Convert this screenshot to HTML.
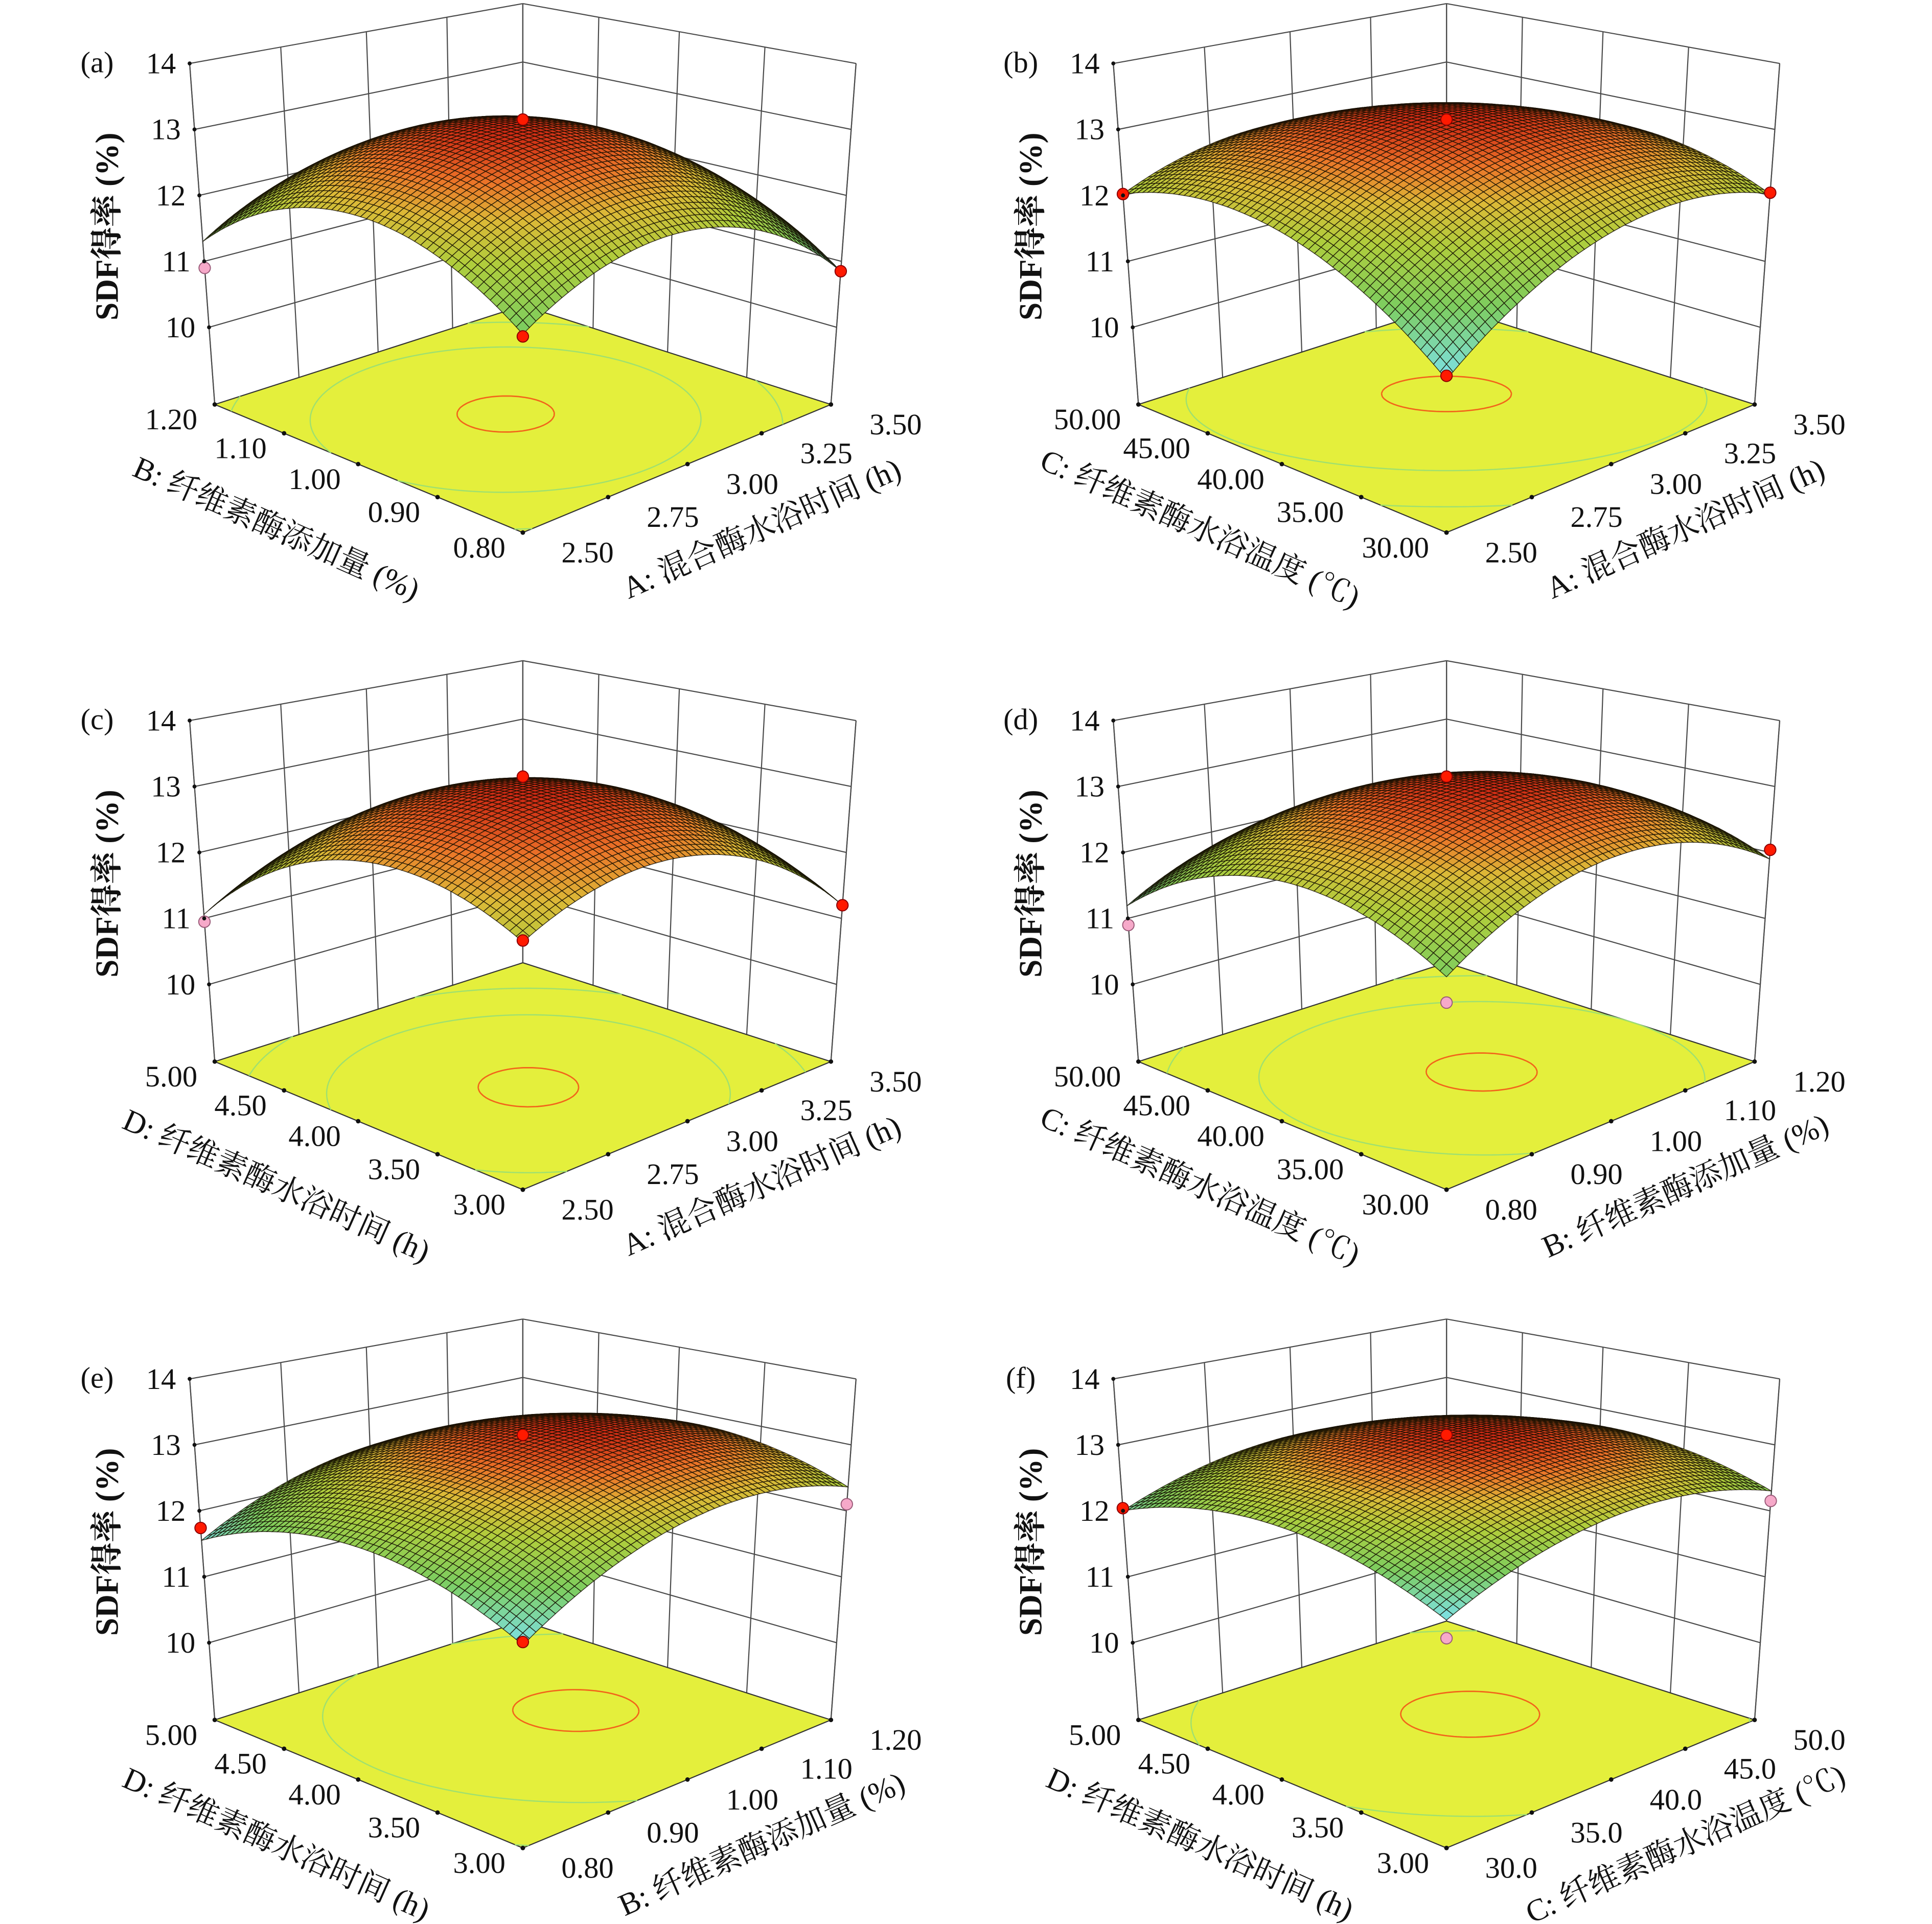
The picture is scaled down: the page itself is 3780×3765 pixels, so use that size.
<!DOCTYPE html>
<html><head><meta charset="utf-8"><style>
html,body{margin:0;padding:0;background:#fff;}
svg{display:block;}
text{font-family:"Liberation Serif","Noto Serif CJK SC",serif;fill:#111;}
</style></head><body>
<svg id="fig" xmlns="http://www.w3.org/2000/svg" width="3780" height="3765" viewBox="0 0 1552 1546" preserveAspectRatio="none"></svg>
<script>
// ---- data ----
const panelLetters = ["(a)","(b)","(c)","(d)","(e)","(f)"];
const centerVals = [13.12, 13.12, 13.12, 13.12, 13.12, 13.12];
const frontVals  = [11.45, 10.85, 12.10, 11.64, 11.51, 11.84];
const rightVals  = [10.85, 12.02, 11.20, 11.90, 12.36, 12.30];
const leftVals   = [11.30, 12.02, 11.06, 11.19, 11.55, 12.00];
const backVals   = [10.80, 11.60, 10.50, 11.00, 12.00, 12.10];
// design points: [panel, u(right axis -1..1), v(left axis -1..1), value, above(1)/below(0)]
const designPts = [
 [0,0,0,13.15,1],[0,-1,-1,11.42,1],[0,1,-1,10.85,1],[0,-1,1,10.90,0],
 [1,0,0,13.15,1],[1,-1,-1,10.90,1],[1,1,-1,12.04,1],[1,-1,1,12.02,1],
 [2,0,0,13.15,1],[2,-1,-1,12.12,1],[2,1,-1,11.20,1],[2,-1,1,10.95,0],
 [3,0,0,13.15,1],[3,-1,-1,11.30,0],[3,1,-1,12.04,1],[3,-1,1,10.90,0],
 [4,0,0,13.15,1],[4,-1,-1,11.55,1],[4,1,-1,12.10,0],[4,-1,1,11.74,1],
 [5,0,0,13.15,1],[5,-1,-1,11.60,0],[5,1,-1,12.15,0],[5,-1,1,12.04,1]
];
const zTicks = [10,11,12,13,14];
const ticksA = ["2.50","2.75","3.00","3.25","3.50"];
const ticksB = ["0.80","0.90","1.00","1.10","1.20"];
const ticksC = ["30.00","35.00","40.00","45.00","50.00"];
const ticksC1 = ["30.0","35.0","40.0","45.0","50.0"];
const ticksD = ["3.00","3.50","4.00","4.50","5.00"];
const leftTickSets  = [ticksB, ticksC, ticksD, ticksC, ticksD, ticksD];
const rightTickSets = [ticksA, ticksA, ticksA, ticksB, ticksB, ticksC1];
const titleA = "A: 混合酶水浴时间 (h)";
const titleB = "B: 纤维素酶添加量 (%)";
const titleC = "C: 纤维素酶水浴温度 (℃)";
const titleD = "D: 纤维素酶水浴时间 (h)";
const leftTitles  = [titleB, titleC, titleD, titleC, titleD, titleD];
const rightTitles = [titleA, titleA, titleA, titleB, titleB, titleC];
const zTitle = "SDF得率 (%)";
const colOffsets = [0, 742];
const rowOffsets = [0, 528, 1057];

// ---- helpers ----
const svg = document.getElementById('fig');
const NS = "http://www.w3.org/2000/svg";
const ZF = 8.83, ZS = 53, HZ = -370, FD = 695, HW = 247.5, KP = 0.129, TILT = 3.9;
function mk(tag, parent){ const e=document.createElementNS(NS,tag); parent.appendChild(e); return e; }
function proj(p,u,v,z){
  const D=(u+v)/2, X=(u-v)/2, q=1/(1+KP*D);
  return [p.ox+420+(HW*X+(z-ZF)*TILT*X)*q, p.oy+HZ+q*(FD-(z-ZF)*ZS)];
}
const stops=[[0,[125,225,235]],[0.3,[125,205,95]],[0.55,[175,205,60]],[0.72,[220,185,55]],[0.86,[235,115,40]],[1,[205,40,20]]];
function cmap(t){
  t=Math.max(0,Math.min(1,t));
  for(let i=1;i<stops.length;i++){ if(t<=stops[i][0]){ const a=stops[i-1],b=stops[i]; const f=(t-a[0])/(b[0]-a[0]);
    const c=a[1].map((x,k)=>Math.round(x+(b[1][k]-x)*f)); return `rgb(${c[0]},${c[1]},${c[2]})`; } }
  return 'rgb(205,40,20)';
}
function line(g,a,b,stroke,w,name){
  const l=mk('line',g);
  l.setAttribute('x1',a[0].toFixed(2)); l.setAttribute('y1',a[1].toFixed(2));
  l.setAttribute('x2',b[0].toFixed(2)); l.setAttribute('y2',b[1].toFixed(2));
  l.setAttribute('stroke',stroke); l.setAttribute('stroke-width',w);
  
  
  return l;
}
function txt(g,x,y,s,size,anchor,name,extra){
  const t=mk('text',g);
  t.setAttribute('x',x.toFixed(2)); t.setAttribute('y',y.toFixed(2));
  t.setAttribute('font-size',size); t.setAttribute('text-anchor',anchor);
  t.setAttribute('dominant-baseline','central');
  if(extra) for(const k in extra) t.setAttribute(k,extra[k]);
  t.textContent=s;
  
  
  return t;
}

for(let pi=0;pi<6;pi++){
  const p={ox:colOffsets[pi%2], oy:rowOffsets[Math.floor(pi/2)]};
  const F=frontVals[pi], R=rightVals[pi], L=leftVals[pi], B=backVals[pi], c=centerVals[pi];
  const a1=(R+B-F-L)/4, a2=(L+B-F-R)/4, a12=(F+B-R-L)/4, s=(F+R+L+B)/4, aq=(s-c)/2;
  const zf=(u,v)=>c+a1*u+a2*v+aq*(u*u+v*v)+a12*u*v;
  const g=mk('g',svg);
  
  

  // back walls grid
  const wall=mk('g',g);
  
  
  const gc='#4a4a4a', gw=0.9;
  for(let i=0;i<5;i++){
    const t=-1+i*0.5;
    line(wall,proj(p,t,1,ZF),proj(p,t,1,14),gc,gw,'left-wall-vline');
    line(wall,proj(p,1,t,ZF),proj(p,1,t,14),gc,gw,'right-wall-vline');
  }
  zTicks.forEach(z=>{
    line(wall,proj(p,-1,1,z),proj(p,1,1,z),gc,gw,'left-wall-hline');
    line(wall,proj(p,1,1,z),proj(p,1,-1,z),gc,gw,'right-wall-hline');
  });
  line(wall,proj(p,1,-1,ZF),proj(p,1,-1,14),gc,gw,'right-edge');

  // floor
  const fl=mk('polygon',g);
  const fc=[proj(p,-1,-1,ZF),proj(p,1,-1,ZF),proj(p,1,1,ZF),proj(p,-1,1,ZF)];
  fl.setAttribute('points',fc.map(q=>q[0].toFixed(2)+','+q[1].toFixed(2)).join(' '));
  fl.setAttribute('fill','#e4ef3c');
  fl.setAttribute('stroke','#333'); fl.setAttribute('stroke-width','0.9');
  
  

  // contours via marching squares
  const NC=70; let zmax=-1e9,zmin=1e9;
  for(let i=0;i<=NC;i++)for(let j=0;j<=NC;j++){const z=zf(-1+2*i/NC,-1+2*j/NC); zmax=Math.max(zmax,z); zmin=Math.min(zmin,z);}
  const levels=[[zmax-0.05,'#f2641a',1.1],[zmax-0.8,'#9ee070',1.0],[zmax-1.6,'#9ee070',1.0]];
  levels.forEach(([lv,col,w])=>{
    let d='';
    for(let i=0;i<NC;i++)for(let j=0;j<NC;j++){
      const u0=-1+2*i/NC,u1=-1+2*(i+1)/NC,v0=-1+2*j/NC,v1=-1+2*(j+1)/NC;
      const cs=[[u0,v0],[u1,v0],[u1,v1],[u0,v1]];
      const zs=cs.map(q=>zf(q[0],q[1]));
      const pts=[];
      for(let k=0;k<4;k++){const k2=(k+1)%4; const za=zs[k],zb=zs[k2];
        if((za-lv)*(zb-lv)<0){const f=(lv-za)/(zb-za); pts.push([cs[k][0]+(cs[k2][0]-cs[k][0])*f, cs[k][1]+(cs[k2][1]-cs[k][1])*f]);}}
      for(let k=0;k+1<pts.length;k+=2){const A=proj(p,pts[k][0],pts[k][1],ZF),Bp=proj(p,pts[k+1][0],pts[k+1][1],ZF);
        d+=`M${A[0].toFixed(2)},${A[1].toFixed(2)}L${Bp[0].toFixed(2)},${Bp[1].toFixed(2)}`;}
    }
    if(d){const pa=mk('path',g); pa.setAttribute('d',d); pa.setAttribute('stroke',col); pa.setAttribute('stroke-width',w); pa.setAttribute('fill','none');
      
      }
  });

  // left z-axis edge
  line(g,proj(p,-1,1,ZF),proj(p,-1,1,14),gc,gw,'z-axis-line');
  line(g,proj(p,1,1,ZF),proj(p,1,1,14),gc,gw,'back-edge');

  // surface
  const N=56, cells=[];
  let smin=1e9,smax=-1e9;
  for(let i=0;i<=N;i++)for(let j=0;j<=N;j++){const z=zf(-1+2*i/N,-1+2*j/N); smin=Math.min(smin,z); smax=Math.max(smax,z);}
  for(let i=0;i<N;i++)for(let j=0;j<N;j++){
    const u0=-1+2*i/N,u1=-1+2*(i+1)/N,v0=-1+2*j/N,v1=-1+2*(j+1)/N;
    cells.push([u0,u1,v0,v1,(u0+u1+v0+v1)/4]);
  }
  cells.sort((a,b)=>b[4]-a[4]);
  const sg=mk('g',g);
  
  
  sg.setAttribute('stroke','rgba(20,14,0,0.8)');
  sg.setAttribute('stroke-width','0.6');
  cells.forEach(([u0,u1,v0,v1])=>{
    const q=[[u0,v0],[u1,v0],[u1,v1],[u0,v1]].map(x=>proj(p,x[0],x[1],zf(x[0],x[1])));
    const zc=zf((u0+u1)/2,(v0+v1)/2);
    const pg=mk('polygon',sg);
    pg.setAttribute('points',q.map(x=>x[0].toFixed(1)+','+x[1].toFixed(1)).join(' '));
    pg.setAttribute('fill',cmap((zc-smin)/(smax-smin)));
    
    
  });

  // design points
  designPts.filter(d=>d[0]===pi).forEach(d=>{
    const q=proj(p,d[1],d[2],d[3]);
    const ci=mk('circle',g);
    ci.setAttribute('cx',q[0].toFixed(2)); ci.setAttribute('cy',q[1].toFixed(2)); ci.setAttribute('r','4.6');
    ci.setAttribute('fill',d[4]?'#ff1a00':'#f6a9c9');
    ci.setAttribute('stroke',d[4]?'#8a0000':'#9a5a78'); ci.setAttribute('stroke-width','0.8');
    
    
  });

  // z ticks & labels
  zTicks.forEach(z=>{
    const q=proj(p,-1,1,z);
    const dt=mk('circle',g); dt.setAttribute('cx',q[0]); dt.setAttribute('cy',q[1]); dt.setAttribute('r','1.6'); dt.setAttribute('fill','#111');
    
    
    txt(g,q[0]-11,q[1],String(z),24,'end','z-tick-label');
  });
  // floor ticks
  const lt=leftTickSets[pi], rt=rightTickSets[pi];
  for(let i=0;i<5;i++){
    const t=-1+i*0.5;
    const ql=proj(p,-1,t,ZF), qr=proj(p,t,-1,ZF);
    [ql,qr].forEach(q=>{const dt=mk('circle',g); dt.setAttribute('cx',q[0]); dt.setAttribute('cy',q[1]); dt.setAttribute('r','1.8'); dt.setAttribute('fill','#111');
      
      });
    txt(g,ql[0]-14,ql[1]+12,lt[i],24,'end','left-axis-tick-label');
    txt(g,qr[0]+31,qr[1]+16,rt[i],24,'start','right-axis-tick-label');
  }
  // titles
  txt(g,p.ox+222,p.oy+425,leftTitles[pi],25,'middle','left-axis-title',{transform:`rotate(24 ${p.ox+222} ${p.oy+425})`});
  txt(g,p.ox+612,p.oy+425,rightTitles[pi],25,'middle','right-axis-title',{transform:`rotate(-24 ${p.ox+612} ${p.oy+425})`});
  txt(g,p.ox+86,p.oy+182,zTitle,26,'middle','z-axis-title',{transform:`rotate(-90 ${p.ox+86} ${p.oy+182})`,'font-weight':'bold'});
  txt(g,p.ox+78,p.oy+50,panelLetters[pi],24,'middle','panel-label');
}
</script>
</body></html>
